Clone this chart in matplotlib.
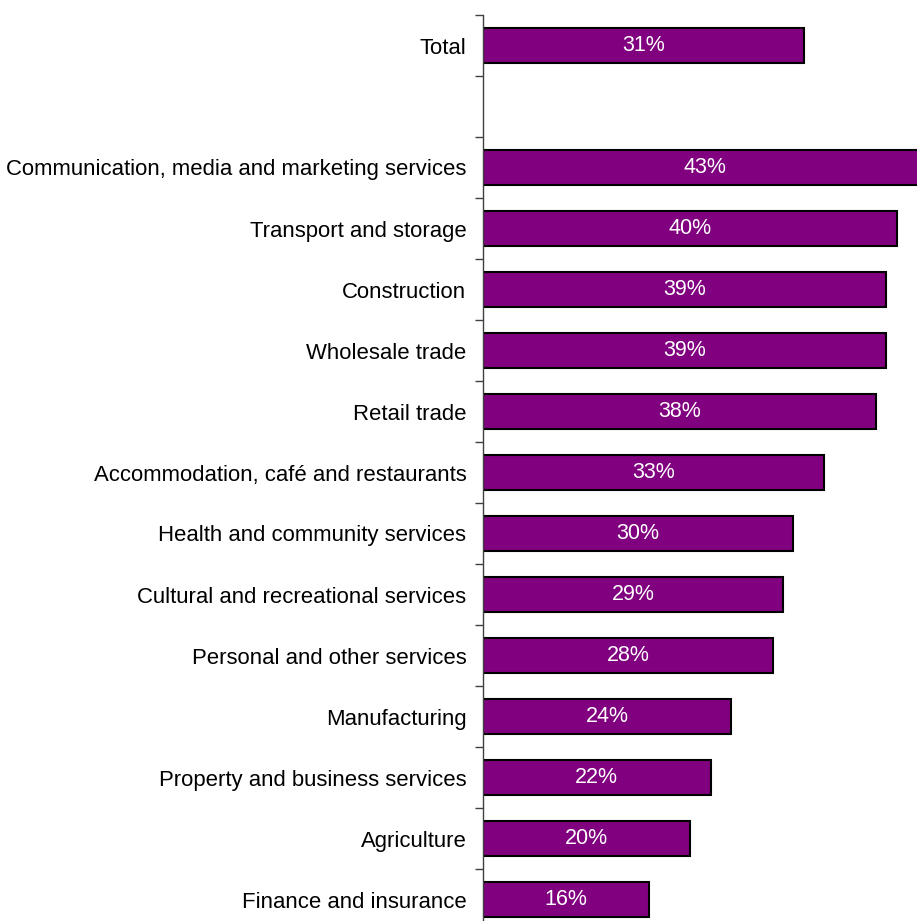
import numpy as np
import matplotlib
matplotlib.use('Agg')
import matplotlib.pyplot as plt

plt.rcParams['font.family'] = ['Liberation Sans', 'DejaVu Sans']

# Datos del gráfico
total_label = 'Total'
total_value = 31
categories = ['Communication, media and marketing services', 'Transport and storage',
              'Construction', 'Wholesale trade', 'Retail trade',
              'Accommodation, café and restaurants', 'Health and community services',
              'Cultural and recreational services', 'Personal and other services',
              'Manufacturing', 'Property and business services', 'Agriculture',
              'Finance and insurance']
values = [43, 40, 39, 39, 38, 33, 30, 29, 28, 24, 22, 20, 16]

# Total arriba, un hueco, luego las categorías
labels = [total_label] + categories
vals = [total_value] + values
pos = [0] + list(range(2, 2 + len(categories)))
n_slots = len(categories) + 2

fig = plt.figure(figsize=(9.17, 9.21), dpi=100)
ax = fig.add_axes([483 / 917, (921 - 930) / 921, 1 - 483 / 917, 915 / 921])

ax.barh(pos, vals, height=0.58, color='#800080', edgecolor='black', linewidth=1.5)
for p, v in zip(pos, vals):
    ax.text(v / 2, p, f'{v}%', ha='center', va='center', color='white', fontsize=15.5)

ax.set_xlim(0, 41.95)
ax.set_ylim(n_slots - 0.5, -0.5)

ax.set_yticks(pos)
ax.set_yticklabels(labels, fontsize=15.9)
ax.tick_params(axis='y', which='major', length=0, pad=12)
ax.set_yticks(np.arange(-0.5, n_slots, 1), minor=True)
ax.tick_params(axis='y', which='minor', length=6, width=1, color='#404040', direction='out')

ax.set_xticks([])
for s in ['top', 'right', 'bottom']:
    ax.spines[s].set_visible(False)
ax.spines['left'].set_color('#404040')
ax.spines['left'].set_linewidth(1)

plt.savefig('out.png', dpi=100)
